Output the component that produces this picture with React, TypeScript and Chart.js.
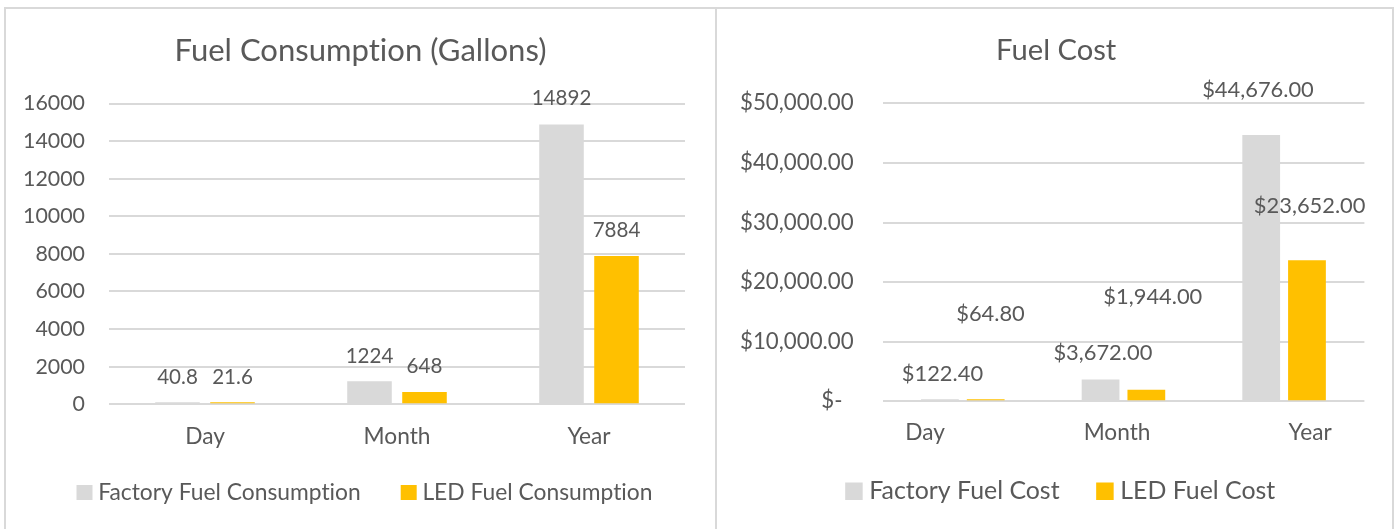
import React, { useEffect, useRef } from "react";
import { Chart, registerables } from "chart.js";

Chart.register(...registerables);

// ---------- data ----------
const categories = ["Day", "Month", "Year"];

const factoryGallons = [40.8, 1224, 14892];
const ledGallons = [21.6, 648, 7884];

const factoryCost = [122.4, 3672, 44676];
const ledCost = [64.8, 1944, 23652];

const gallonSeriesNames: [string, string] = ["Factory Fuel Consumption", "LED Fuel Consumption"];
const costSeriesNames: [string, string] = ["Factory Fuel Cost", "LED Fuel Cost"];

const gallonTickMax = 16000;
const gallonTickStep = 2000;
const costTickMax = 50000;
const costTickStep = 10000;

// ---------- style ----------
const FAMILY = "Lato";
const TEXT = "#595959";
const GRID = "#d9d9d9";
const FACTORY_COLOR = "#d9d9d9";
const LED_COLOR = "#ffc000";
const CANVAS_H = 520;

// label placement (pixels above bar top / horizontal nudge), as in the source
const gallonLabelRaise = [
  [25, 25, 26],
  [25, 26, 26],
];
const gallonLabelShift = [
  [0, 0, 0],
  [0, 0, 0],
];
const gallonCategoryShift = [0, 0, 0];
const costLabelRaise = [
  [25.6, 26.8, 44.6],
  [85, 92.7, 54.5],
];
const costLabelShift = [
  [2.5, 2.3, -3.2],
  [4.8, 6.5, 2.7],
];
const costCategoryShift = [-37.8, -6.4, 26];

interface Spec {
  title: string;
  names: [string, string];
  values: [number[], number[]];
  yMax: number;
  yStep: number;
  fmtTick: (v: number) => string;
  fmtLabel: (v: number) => string;
  canvasW: number;
  plot: { left: number; right: number; top: number; bottom: number };
  titleCenter: number;
  legendCenter: number;
  titleMid: number;
  catMid: number;
  catShift: number[];
  legend: { mid: number; gap: number; textGap: number; boxW: number; boxH: number };
  tickPad: number;
  fit: {
    title: number;
    tickSample: string;
    tick: number;
    labelSample: string;
    label: number;
    cat: number;
    legend: number;
  };
  raise: number[][];
  shift: number[][];
  categoryPercentage: number;
  barPercentage: number;
}

const money = (v: number) =>
  "$" + v.toLocaleString("en-US", { minimumFractionDigits: 2, maximumFractionDigits: 2 });

const gallonsSpec: Spec = {
  title: "Fuel Consumption (Gallons)",
  names: gallonSeriesNames,
  values: [factoryGallons, ledGallons],
  yMax: gallonTickMax,
  yStep: gallonTickStep,
  fmtTick: (v) => String(v),
  fmtLabel: (v) => String(v),
  canvasW: 709,
  plot: { left: 103, right: 679, top: 94.6, bottom: 395.2 },
  titleCenter: 354.5,
  legendCenter: 358.5,
  titleMid: 42.3,
  catMid: 32.5,
  catShift: gallonCategoryShift,
  legend: { mid: 483.5, gap: 40, textGap: 5.7, boxW: 16, boxH: 15 },
  tickPad: 24,
  fit: {
    title: 372,
    tickSample: "16000",
    tick: 62,
    labelSample: "14892",
    label: 59.7,
    cat: 67,
    legend: 262.6,
  },
  raise: gallonLabelRaise,
  shift: gallonLabelShift,
  categoryPercentage: 0.573,
  barPercentage: 0.81,
};

const costSpec: Spec = {
  title: "Fuel Cost",
  names: costSeriesNames,
  values: [factoryCost, ledCost],
  yMax: costTickMax,
  yStep: costTickStep,
  fmtTick: (v) => (v === 0 ? "$-\u2002" : money(v)),
  fmtLabel: money,
  canvasW: 674,
  plot: { left: 165.5, right: 647.4, top: 94.3, bottom: 392.3 },
  titleCenter: 339.2,
  legendCenter: 343.2,
  titleMid: 42,
  catMid: 31,
  catShift: costCategoryShift,
  legend: { mid: 482.3, gap: 36.6, textGap: 6.6, boxW: 17.5, boxH: 17.5 },
  tickPad: 28.9,
  fit: {
    title: 120.2,
    tickSample: "$50,000.00",
    tick: 113.6,
    labelSample: "$44,676.00",
    label: 111.7,
    cat: 66.8,
    legend: 190.4,
  },
  raise: costLabelRaise,
  shift: costLabelShift,
  categoryPercentage: 0.57,
  barPercentage: 0.825,
};

function plainText(ctx: any) {
  // no ligatures, like the source rendering
  ctx.textRendering = "optimizeSpeed";
}

function fitSize(text: string, width: number): number {
  const ctx = document.createElement("canvas").getContext("2d")!;
  plainText(ctx);
  ctx.font = `100px ${FAMILY}`;
  return (100 * width) / ctx.measureText(text).width;
}

function buildChart(canvas: HTMLCanvasElement, s: Spec): Chart {
  const titleSize = fitSize(s.title, s.fit.title);
  const tickSize = fitSize(s.fit.tickSample, s.fit.tick);
  const labelSize = fitSize(s.fit.labelSample, s.fit.label);
  const catSize = fitSize("Month", s.fit.cat);
  const legendSize = fitSize(s.names[0], s.fit.legend);

  const titleLH = titleSize * 1.2;
  const titlePadTop = s.titleMid - titleLH / 2;
  const titlePadBottom = s.plot.top - s.titleMid - titleLH / 2;

  // title is centred between the layout paddings
  const diff = 2 * s.titleCenter - s.canvasW;
  const padLeft = Math.max(diff, 0);
  const padRight = Math.max(-diff, 0);
  const yWidth = s.plot.left - padLeft;
  const y2Width = s.canvasW - padRight - s.plot.right;

  const lw = legendSize - 2 * s.legend.textGap;
  const boxW = s.legend.boxW - lw;
  const boxH = s.legend.boxH - lw;
  const lp = s.legend.gap + lw / 2;
  const xH = s.legend.mid - lp - legendSize / 2 - s.plot.bottom;
  const legendH = lp + Math.max(legendSize, boxH) + 10;
  const padBottom = CANVAS_H - s.plot.bottom - xH - legendH;
  const legendShift = s.legendCenter + lw / 4 - s.titleCenter;

  const textMode = {
    id: "textMode",
    beforeInit(chart: any) {
      plainText(chart.ctx);
    },
    beforeLayout(chart: any) {
      plainText(chart.ctx);
    },
    afterLayout(chart: any) {
      const lg = chart.legend;
      if (lg) {
        lg.left += legendShift;
        lg.right += legendShift;
      }
    },
    beforeDraw(chart: any) {
      plainText(chart.ctx);
    },
  };

  const valueLabels = {
    id: "valueLabels",
    afterDatasetsDraw(chart: any) {
      const ctx = chart.ctx as CanvasRenderingContext2D;
      ctx.save();
      plainText(ctx);
      ctx.font = `${labelSize}px ${FAMILY}`;
      ctx.fillStyle = TEXT;
      ctx.textAlign = "center";
      ctx.textBaseline = "middle";
      chart.data.datasets.forEach((ds: any, i: number) => {
        chart.getDatasetMeta(i).data.forEach((bar: any, j: number) => {
          const { x, y } = bar.getProps(["x", "y"], true);
          ctx.fillText(s.fmtLabel(ds.data[j]), x + s.shift[i][j], y - s.raise[i][j]);
        });
      });
      ctx.restore();
    },
  };

  const categoryLabels = {
    id: "categoryLabels",
    afterDraw(chart: any) {
      const ctx = chart.ctx as CanvasRenderingContext2D;
      const xs = chart.scales.x;
      ctx.save();
      plainText(ctx);
      ctx.font = `${catSize}px ${FAMILY}`;
      ctx.fillStyle = TEXT;
      ctx.textAlign = "center";
      ctx.textBaseline = "middle";
      (chart.data.labels as string[]).forEach((c, i) => {
        ctx.fillText(c, xs.getPixelForValue(i) + s.catShift[i], chart.chartArea.bottom + s.catMid);
      });
      ctx.restore();
    },
  };

  return new Chart(canvas, {
    type: "bar",
    data: {
      labels: categories,
      datasets: [
        {
          label: s.names[0],
          data: s.values[0],
          backgroundColor: FACTORY_COLOR,
          borderWidth: 0,
          minBarLength: 2,
          categoryPercentage: s.categoryPercentage,
          barPercentage: s.barPercentage,
        },
        {
          label: s.names[1],
          data: s.values[1],
          backgroundColor: LED_COLOR,
          borderWidth: 0,
          minBarLength: 2,
          categoryPercentage: s.categoryPercentage,
          barPercentage: s.barPercentage,
        },
      ],
    },
    options: {
      animation: false,
      responsive: false,
      maintainAspectRatio: false,
      layout: { padding: { left: padLeft, right: padRight, top: 0, bottom: padBottom } },
      scales: {
        x: {
          grid: { display: false },
          border: { display: false },
          ticks: { display: false },
          afterFit: (scale: any) => {
            scale.height = xH;
          },
        },
        y: {
          position: "left",
          min: 0,
          max: s.yMax,
          border: { display: false },
          grid: { color: GRID, lineWidth: 2, drawTicks: false },
          ticks: {
            stepSize: s.yStep,
            color: TEXT,
            padding: s.tickPad,
            font: { family: FAMILY, size: tickSize },
            callback: (v: any) => s.fmtTick(Number(v)),
          },
          afterFit: (scale: any) => {
            scale.width = yWidth;
          },
        },
        // empty spacer on the right so the plot ends where the source's does
        spacer: {
          type: "linear",
          position: "right",
          display: true,
          grid: { display: false },
          border: { display: false },
          ticks: { display: false },
          afterFit: (scale: any) => {
            scale.width = y2Width;
          },
        },
      },
      plugins: {
        title: {
          display: true,
          text: s.title,
          color: TEXT,
          font: { family: FAMILY, size: titleSize, weight: "normal" },
          padding: { top: titlePadTop, bottom: titlePadBottom },
        },
        legend: {
          position: "bottom",
          labels: {
            color: TEXT,
            font: { family: FAMILY, size: legendSize },
            boxWidth: boxW,
            boxHeight: boxH,
            padding: lp,
            generateLabels: (chart: any) =>
              Chart.defaults.plugins.legend.labels.generateLabels(chart).map((item: any) => ({
                ...item,
                lineWidth: lw,
                strokeStyle: item.fillStyle,
                lineJoin: "miter",
              })),
          },
        },
        tooltip: { enabled: false },
      },
    } as any,
    plugins: [textMode, valueLabels, categoryLabels],
  });
}

export default function App() {
  const leftRef = useRef<HTMLCanvasElement>(null);
  const rightRef = useRef<HTMLCanvasElement>(null);

  useEffect(() => {
    const a = buildChart(leftRef.current!, gallonsSpec);
    const b = buildChart(rightRef.current!, costSpec);
    return () => {
      a.destroy();
      b.destroy();
    };
  }, []);

  return (
    <div
      style={{
        position: "absolute",
        left: 0,
        top: 0,
        width: 1398,
        height: 529,
        overflow: "hidden",
        background: "#ffffff",
      }}
    >
      <div
        style={{
          position: "absolute",
          left: 4,
          top: 7,
          width: 713,
          height: 560,
          boxSizing: "border-box",
          border: "2px solid #d9d9d9",
        }}
      />
      <div
        style={{
          position: "absolute",
          left: 715,
          top: 7,
          width: 679,
          height: 560,
          boxSizing: "border-box",
          border: "2px solid #d9d9d9",
        }}
      />
      <canvas
        ref={leftRef}
        width={709}
        height={CANVAS_H}
        style={{ position: "absolute", left: 6, top: 9, width: 709, height: CANVAS_H }}
      />
      <canvas
        ref={rightRef}
        width={674}
        height={CANVAS_H}
        style={{ position: "absolute", left: 717, top: 9, width: 674, height: CANVAS_H }}
      />
    </div>
  );
}
